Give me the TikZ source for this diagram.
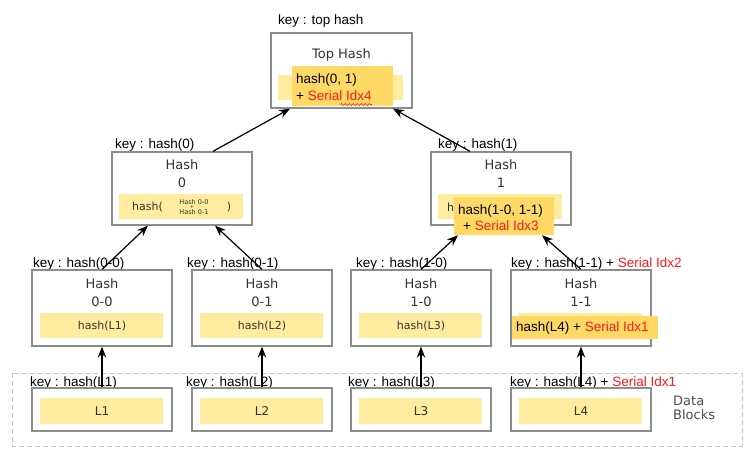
\documentclass[tikz,border=0pt]{standalone}
\usepackage{fontspec}
\setmainfont{Liberation Sans}
\newfontfamily\dv{DejaVu Sans}
\usetikzlibrary{arrows.meta,calc,decorations.pathmorphing}
\definecolor{bandy}{HTML}{FFEC9E}
\definecolor{overo}{HTML}{FFD966}
\definecolor{boxline}{HTML}{8C8C8C}
\definecolor{titlegrey}{HTML}{333333}
\definecolor{serial}{HTML}{FF1A1A}
\begin{document}
\begin{tikzpicture}[x=1pt,y=-1pt,
  box/.style={draw=boxline, line width=1.3pt, fill=white, minimum width=140pt, inner sep=0pt},
  band/.style={fill=bandy, inner sep=0pt, minimum width=123pt, minimum height=25pt},
  over/.style={fill=overo, inner sep=0pt},
  keyl/.style={anchor=base west, inner sep=0pt, font=\fontsize{13.5}{16}\selectfont},
  otxt/.style={anchor=base west, inner sep=0pt, font=\fontsize{13.5}{16}\selectfont},
  ttl/.style={inner sep=0pt, text=titlegrey, font=\dv\fontsize{13}{15}\selectfont},
  btxt/.style={inner sep=0pt, text=titlegrey, font=\dv\fontsize{11}{13}\selectfont},
  arr/.style={-{Stealth[length=11pt,width=8.5pt]}, line width=1.2pt, black}]
\useasboundingbox (0,0) rectangle (749,461);
\fill[white] (0,0) rectangle (749,461);
% data block region
\draw[draw=black!22, dashed, line width=0.8pt, dash pattern=on 5pt off 3pt] (12,373) rectangle (742,446);
\node[ttl, anchor=west, align=left, text=black!70] (dblab) at (673,408) {Data\\[-1pt]Blocks};

% ---- top hash
\node[keyl] (ktop) at (278,24) {key : top hash};
\node[box, minimum width=141pt, minimum height=75pt] (top) at (341.5,70.5) {};
\node[ttl] (toptl) at (341.5,55) {Top Hash};
\node[band, minimum width=125pt] (topband) at (340.5,87.5) {};
\node[over, minimum width=101pt, minimum height=40pt] (topover) at (342.5,86) {};
\node[otxt] (topt1) at (296,83) {hash(0, 1)};
\node[otxt] (topt2) at (296,100) {+ \textcolor{serial}{Serial Idx4}};
\draw[serial, line width=0.6pt, decorate, decoration={snake, amplitude=0.9pt, segment length=4pt}] (340,104.5) -- (372,104.5);

% ---- hash 0
\node[keyl] (kh0) at (115,148) {key : hash(0)};
\node[box, minimum height=73pt] (h0) at (182,188.5) {};
\node[ttl] (h0t1) at (182,165) {Hash};
\node[ttl] (h0t2) at (182,183) {0};
\node[band, minimum width=124pt] (h0band) at (181,206.5) {};
\node[btxt, anchor=west] (h0a) at (132,207) {hash(};
\node[btxt, font=\dv\fontsize{6.5}{7}\selectfont] (h0b) at (194,202) {Hash 0-0};
\node[btxt, font=\dv\fontsize{5}{6}\selectfont] (h0p) at (192,207.3) {+};
\node[btxt, font=\dv\fontsize{6.5}{7}\selectfont] (h0c) at (194,212.5) {Hash 0-1};
\node[btxt] (h0d) at (229,207) {)};

% ---- hash 1
\node[keyl] (kh1) at (438,148) {key : hash(1)};
\node[box, minimum height=73pt] (h1) at (501,188.5) {};
\node[ttl] (h1t1) at (501,165) {Hash};
\node[ttl] (h1t2) at (501,183) {1};
\node[band, minimum width=124pt] (h1band) at (500,206.5) {};
\node[btxt, anchor=west] (h1a) at (447,207) {h};
\node[over, minimum width=100pt, minimum height=38pt] (h1over) at (504,216) {};
\node[otxt] (h1o1) at (458,214) {hash(1-0, 1-1)};
\node[otxt] (h1o2) at (463,230) {+ \textcolor{serial}{Serial Idx3}};

% ---- level 2
\node[keyl] (k00) at (33,267) {key : hash(0-0)};
\node[keyl] (k01) at (187,267) {key : hash(0-1)};
\node[keyl] (k10) at (356,267) {key : hash(1-0)};
\node[keyl] (k11) at (511,267) {key : hash(1-1) + \textcolor{serial}{Serial Idx2}};
\foreach \n/\x/\lab/\leaf in {h00/102/0-0/L1, h01/262/0-1/L2, h10/421/1-0/L3}{
  \node[box, minimum height=76pt] (\n) at (\x,308) {};
  \node[ttl] (\n t1) at (\x,284) {Hash};
  \node[ttl] (\n t2) at (\x,302) {\lab};
  \node[band] (\n band) at (\x-0.5,325.5) {};
  \node[btxt] (\n txt) at (\x,326) {hash(\leaf)};
}
\node[box, minimum height=76pt] (h11) at (581,308) {};
\node[ttl] (h11t1) at (581,284) {Hash};
\node[ttl] (h11t2) at (581,302) {1-1};
\node[band] (h11band) at (580.5,325.5) {};
\node[over, minimum width=146pt, minimum height=23pt] (h11over) at (585,327.5) {};
\node[otxt, anchor=west] (h11o) at (516,328) {hash(L4) + \textcolor{serial}{Serial Idx1}};

% ---- data blocks
\node[keyl] (kl1) at (30,386) {key : hash(L1)};
\node[keyl] (kl2) at (186,386) {key : hash(L2)};
\node[keyl] (kl3) at (348,386) {key : hash(L3)};
\node[keyl] (kl4) at (510,386) {key : hash(L4) + \textcolor{serial}{Serial Idx1}};
\foreach \n/\x/\leaf in {l1/102/L1, l2/262/L2, l3/421/L3, l4/581/L4}{
  \node[box, minimum height=43pt] (\n) at (\x,409.5) {};
  \node[band, minimum height=26pt] (\n band) at (\x-0.5,411) {};
  \node[btxt, font=\dv\fontsize{12}{14}\selectfont] (\n txt) at (\x,411) {\leaf};
}

% ---- arrows
\draw[arr] (l1.north) -- (h00.south);
\draw[arr] (l2.north) -- (h01.south);
\draw[arr] (l3.north) -- (h10.south);
\draw[arr] (l4.north) -- (h11.south);
\draw[arr] (h00.north) -- ($(h0.south)+(-34,0)$);
\draw[arr] (h01.north) -- ($(h0.south)+(33,0)$);
\draw[arr] (h10.north) -- ($(h1over.south)+(-46,0)$);
\draw[arr] (h11.north) -- ($(h1over.south)+(38,0)$);
\draw[arr] ($(h0.north)+(31,0)$) -- ($(top.south)+(-51.5,0)$);
\draw[arr] ($(h1.north)+(-31,0)$) -- ($(top.south)+(51.5,0)$);
\end{tikzpicture}
\end{document}
